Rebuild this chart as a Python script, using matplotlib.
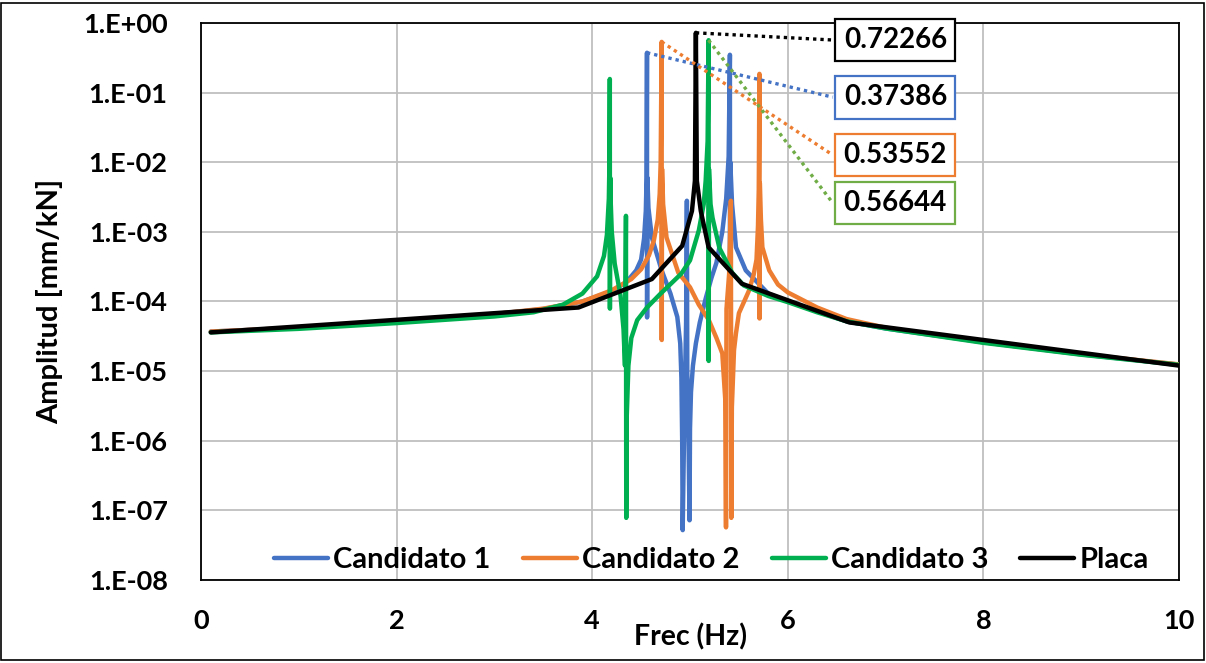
import numpy as np
import matplotlib
matplotlib.use("Agg")
import matplotlib.pyplot as plt
from matplotlib.patches import Rectangle
from matplotlib.ticker import FixedLocator, FuncFormatter

# frequency response, amplitude in mm/kN vs frequency in Hz
freq_c1 = [0.1, 1.0, 2.0, 3.0, 3.5, 3.9, 4.2, 4.35, 4.45, 4.5, 4.53, 4.548, 4.556,
           4.56, 4.561, 4.564, 4.575, 4.61, 4.71, 4.80, 4.87, 4.90, 4.912, 4.92,
           4.925, 4.94, 4.96, 4.968, 4.972, 4.985, 4.995, 5.0, 5.01, 5.03, 5.06,
           5.10, 5.16, 5.22, 5.27, 5.33, 5.37, 5.395, 5.408, 5.409, 5.412, 5.43,
           5.47, 5.57, 5.8, 6.0, 6.3, 6.6, 7.0, 8.0, 9.0, 10.0]
amp_c1 = [3.7e-5, 4.2e-5, 5.2e-5, 6.6e-5, 7.8e-5, 1.0e-4, 1.4e-4, 1.9e-4, 2.8e-4,
          4.0e-4, 8.0e-4, 2.0e-3, 6.0e-3, 0.37386, 5.9e-5, 6.0e-3, 2.2e-3, 8.3e-4,
          2.8e-4, 1.3e-4, 6.0e-5, 2.5e-5, 8.0e-6, 1.0e-6, 5.2e-8, 1.5e-6, 5.0e-5,
          2.8e-3, 1.0e-5, 1.0e-6, 7.2e-8, 1.5e-6, 5.0e-6, 1.2e-5, 2.5e-5, 5.0e-5,
          1.1e-4, 2.2e-4, 3.6e-4, 1.0e-3, 3.0e-3, 1.2e-2, 0.35, 1.0e-4, 1.0e-2,
          2.5e-3, 6.0e-4, 2.8e-4, 1.3e-4, 1.0e-4, 7.2e-5, 5.2e-5, 4.1e-5, 2.6e-5,
          1.74e-5, 1.24e-5]

freq_c2 = [0.1, 1.0, 2.0, 3.0, 3.5, 3.9, 4.2, 4.4, 4.5, 4.58, 4.63, 4.67, 4.69,
           4.70, 4.71, 4.711, 4.714, 4.725, 4.76, 4.88, 5.0, 5.09, 5.19, 5.27,
           5.33, 5.36, 5.368, 5.373, 5.40, 5.418, 5.422, 5.428, 5.45, 5.47, 5.50,
           5.60, 5.65, 5.68, 5.695, 5.703, 5.71, 5.711, 5.714, 5.725, 5.74, 5.81,
           5.9, 6.0, 6.3, 6.6, 7.0, 8.0, 9.0, 10.0]
amp_c2 = [3.7e-5, 4.2e-5, 5.2e-5, 6.6e-5, 7.9e-5, 1.0e-4, 1.45e-4, 2.1e-4, 2.9e-4,
          4.6e-4, 7.5e-4, 1.5e-3, 3.5e-3, 1.0e-2, 0.53552, 2.8e-5, 8.0e-3, 2.5e-3,
          8.3e-4, 2.6e-4, 1.6e-4, 9.0e-5, 5.5e-5, 3.0e-5, 1.8e-5, 4.0e-6, 5.7e-8,
          7.8e-5, 2.5e-4, 2.8e-3, 7.8e-8, 3.0e-6, 2.0e-5, 3.5e-5, 6.8e-5, 1.4e-4,
          2.4e-4, 4.0e-4, 1.2e-3, 4.0e-3, 0.186, 5.7e-5, 5.0e-3, 1.5e-3, 6.0e-4,
          2.8e-4, 1.75e-4, 1.35e-4, 8.2e-5, 5.6e-5, 4.2e-5, 2.6e-5, 1.75e-5, 1.25e-5]

freq_c3 = [0.1, 1.0, 2.0, 3.0, 3.4, 3.7, 3.9, 4.05, 4.12, 4.15, 4.17, 4.177, 4.18,
           4.181, 4.184, 4.19, 4.20, 4.23, 4.29, 4.32, 4.335, 4.345, 4.348, 4.352,
           4.37, 4.40, 4.46, 4.56, 4.70, 4.91, 5.0, 5.09, 5.14, 5.16, 5.18, 5.19,
           5.191, 5.194, 5.21, 5.23, 5.30, 5.43, 5.55, 5.8, 6.0, 6.3, 6.6, 7.0,
           8.0, 9.0, 10.0]
amp_c3 = [3.6e-5, 4.05e-5, 4.9e-5, 6.1e-5, 7.0e-5, 9.0e-5, 1.3e-4, 2.3e-4, 4.5e-4,
          9.0e-4, 3.0e-3, 1.2e-2, 0.157, 7.9e-5, 6.0e-3, 2.5e-3, 1.0e-3, 3.5e-4,
          1.2e-4, 4.0e-5, 1.2e-5, 1.7e-3, 7.8e-8, 2.0e-6, 1.2e-5, 3.0e-5, 5.4e-5,
          8.2e-5, 1.3e-4, 2.5e-4, 3.9e-4, 1.05e-3, 2.5e-3, 5.4e-3, 2.0e-2, 0.56644,
          1.4e-5, 8.0e-3, 2.5e-3, 1.6e-3, 5.9e-4, 2.6e-4, 1.7e-4, 1.2e-4, 9.8e-5,
          7.0e-5, 5.2e-5, 4.1e-5, 2.55e-5, 1.72e-5, 1.23e-5]

freq_placa = [0.1, 3.86, 4.61, 4.92, 5.02, 5.05, 5.06, 5.07, 5.11, 5.19, 5.53,
              6.63, 10.0]
amp_placa = [3.6e-5, 8.2e-5, 2.1e-4, 6.3e-4, 2.0e-3, 5.4e-3, 0.72266, 5.4e-3,
             2.0e-3, 6.0e-4, 1.8e-4, 5.0e-5, 1.2e-5]

series_names = ["Candidato 1", "Candidato 2", "Candidato 3", "Placa"]

plt.rcParams["font.family"] = ["Lato", "DejaVu Sans"]
plt.rcParams["font.weight"] = "bold"

fig = plt.figure(figsize=(12.06, 6.63), dpi=100)
ax = fig.add_axes([0.1667, 0.1252, 0.8109, 0.8401])

series = [
    (freq_c1, amp_c1, "#4472C4"),
    (freq_c2, amp_c2, "#ED7D31"),
    (freq_c3, amp_c3, "#00B050"),
    (freq_placa, amp_placa, "black"),
]
for (fx, fy, col), name in zip(series, series_names):
    ax.plot(fx, fy, color=col, lw=3.2, label=name,
            solid_joinstyle="round", solid_capstyle="round", zorder=3)

ax.set_yscale("log")
ax.set_xlim(0, 10)
ax.set_ylim(1e-8, 1)
ax.xaxis.set_major_locator(FixedLocator([0, 2, 4, 6, 8, 10]))
ax.yaxis.set_major_locator(FixedLocator([10.0 ** k for k in range(-8, 1)]))
ax.yaxis.set_minor_locator(FixedLocator([]))
ax.yaxis.set_major_formatter(
    FuncFormatter(lambda v, p: "1.E{:+03d}".format(int(round(np.log10(v))))))
ax.tick_params(axis="both", length=0, labelsize=19.5)
ax.tick_params(axis="y", pad=24)
ax.tick_params(axis="x", pad=21)
ax.grid(True, color="#BFBFBF", lw=1.3)
ax.set_axisbelow(True)
for sp in ax.spines.values():
    sp.set_color("black")
    sp.set_linewidth(1.3)

ax.set_xlabel("Frec (Hz)", fontsize=20.5, fontweight="bold", labelpad=-7)
ax.set_ylabel("Amplitud [mm/kN]", fontsize=21, fontweight="bold", labelpad=14)

# data labels for the peak of each curve, with dotted leader lines
label_pos = [(7.10, 0.086), (7.10, 0.0127), (7.10, 2.6e-3), (7.10, 0.57)]
leader_x = 6.46
leader_cols = ["#4472C4", "#ED7D31", "#70AD47", "black"]
for (fx, fy, _), (lx, ly), lc in zip(series, label_pos, leader_cols):
    i = int(np.argmax(fy))
    ax.plot([fx[i], leader_x], [fy[i], ly], color=lc, lw=2.4,
            linestyle=(0, (1, 1.2)), zorder=4)
    ax.text(lx, ly, "{:.5f}".format(fy[i]), ha="center", va="center",
            fontsize=20, fontweight="bold", zorder=6,
            bbox=dict(boxstyle="square,pad=0.3", fc="white", ec=lc, lw=1.6))

ax.legend(loc="lower center", bbox_to_anchor=(0.522, -0.035), ncol=4,
          frameon=False, fontsize=21, handlelength=1.85, handletextpad=0.18,
          columnspacing=1.1)

fig.patches.append(Rectangle((1 / 1206, 3 / 663), 1203 / 1206, 657 / 663,
                             transform=fig.transFigure, fill=False,
                             ec="black", lw=1.2))

fig.savefig("out.png", dpi=100)
